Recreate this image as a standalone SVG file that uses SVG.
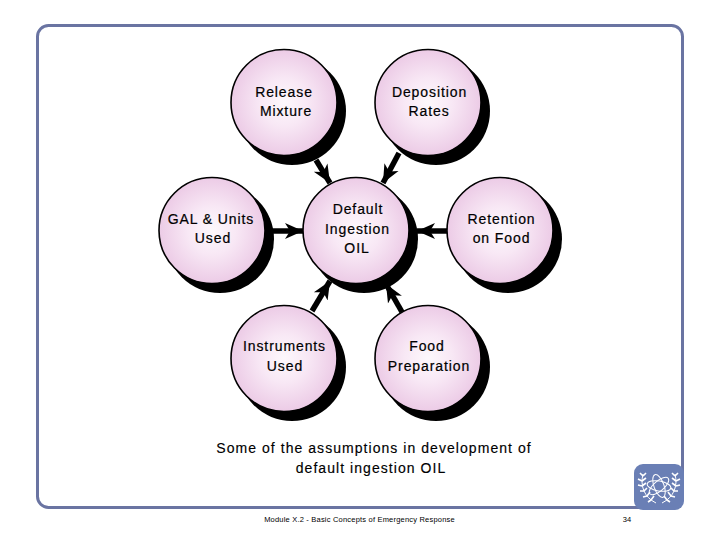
<svg xmlns="http://www.w3.org/2000/svg" width="720" height="540" viewBox="0 0 720 540">
<style>
text{font-family:"Liberation Sans",Arial,sans-serif;fill:#000;text-anchor:middle}
.n{font-size:14px;letter-spacing:.9px;stroke:#000;stroke-width:.2}
.c{font-size:14px;letter-spacing:1.05px;stroke:#000;stroke-width:.15}
.f{font-size:7.5px;letter-spacing:.2px}
.shadow{fill:#000}
.disc{fill:url(#g);stroke:#000;stroke-width:1.6}
.conn{stroke:#000;stroke-width:5.5;fill:none}
.w{fill:none;stroke:#fff;stroke-width:1}
.l{fill:none;stroke:#fff;stroke-width:1.6}
</style>
<defs>
<radialGradient id="g" cx=".5" cy=".5" r=".5"><stop offset="0" stop-color="#fdf8fc"/><stop offset=".45" stop-color="#f8e8f5"/><stop offset="1" stop-color="#eccbe6"/></radialGradient>
<marker id="a" markerUnits="userSpaceOnUse" markerWidth="20" markerHeight="18" refX="18" refY="9" orient="auto"><path d="M0 1L18 9L0 17L5 9Z" fill="#000"/></marker>
</defs>
<rect x="37.5" y="25.5" width="645" height="482" rx="11" fill="#fff" stroke="#6a74a2" stroke-width="3"/>
<g id="connectors">
<path class="conn" d="M316 160L330 183" marker-end="url(#a)"/>
<path class="conn" d="M399 153L383 183" marker-end="url(#a)"/>
<path class="conn" d="M272 231H303" marker-end="url(#a)"/>
<path class="conn" d="M448 231H417" marker-end="url(#a)"/>
<path class="conn" d="M312 311L330 281" marker-end="url(#a)"/>
<path class="conn" d="M402 312L386 284" marker-end="url(#a)"/>
</g>
<g id="release"><circle class="shadow" cx="292" cy="111" r="54"/><circle class="disc" cx="284" cy="102.5" r="53"/><text class="n" x="284" y="97">Release</text><text class="n" x="286" y="116">Mixture</text></g>
<g id="deposition"><circle class="shadow" cx="436" cy="111" r="54"/><circle class="disc" cx="428" cy="102.5" r="53"/><text class="n" x="429.500" y="97">Deposition</text><text class="n" x="429" y="116">Rates</text></g>
<g id="gal"><circle class="shadow" cx="220" cy="239" r="54"/><circle class="disc" cx="212" cy="230.500" r="53"/><text class="n" x="211" y="224">GAL &amp; Units</text><text class="n" x="213" y="243">Used</text></g>
<g id="default"><circle class="shadow" cx="364" cy="239" r="54"/><circle class="disc" cx="356" cy="230.500" r="53"/><text class="n" x="358" y="214">Default</text><text class="n" x="357.500" y="234">Ingestion</text><text class="n" x="357" y="253">OIL</text></g>
<g id="retention"><circle class="shadow" cx="508" cy="239" r="54"/><circle class="disc" cx="500" cy="230.500" r="53"/><text class="n" x="501.500" y="224">Retention</text><text class="n" x="501.500" y="243">on Food</text></g>
<g id="instruments"><circle class="shadow" cx="292" cy="367" r="54"/><circle class="disc" cx="284" cy="358.500" r="53"/><text class="n" x="284.500" y="351">Instruments</text><text class="n" x="285" y="371">Used</text></g>
<g id="food"><circle class="shadow" cx="436" cy="367" r="54"/><circle class="disc" cx="428" cy="358.500" r="53"/><text class="n" x="427" y="351">Food</text><text class="n" x="429" y="371">Preparation</text></g>
<text class="c" x="374" y="453">Some of the assumptions in development of</text>
<text class="c" x="371" y="473">default ingestion OIL</text>
<text class="f" x="359.500" y="522">Module X.2 - Basic Concepts of Emergency Response</text>
<text class="f" x="627" y="522">34</text>
<g id="logo">
<rect x="634" y="464" width="50" height="46" rx="9" fill="#6a7fb5"/>
<path class="w" d="M643 474C640 486 644 497 656 503M675 474C678 486 674 497 662 503"/>
<path class="l" d="M643 476L640 473M643 476L646 473M642 481L638 479M642 481L646 478M642 486L638 485M642 486L646 483M644 491L640 491M644 491L647 488M647 496L643 497M647 496L650 492M651 500L648 502M651 500L654 496M675 476L678 473M675 476L672 473M676 481L680 479M676 481L672 478M676 486L680 485M676 486L672 483M674 491L678 491M674 491L671 488M671 496L675 497M671 496L668 492M667 500L670 502M667 500L664 496"/>
<ellipse class="w" cx="659" cy="486" rx="5" ry="12" transform="rotate(-20 659 486)"/>
<ellipse class="w" cx="659" cy="486" rx="5" ry="12" transform="rotate(50 659 486)"/>
<ellipse class="w" cx="659" cy="486" rx="5" ry="12" transform="rotate(100 659 486)"/>
</g>
</svg>
